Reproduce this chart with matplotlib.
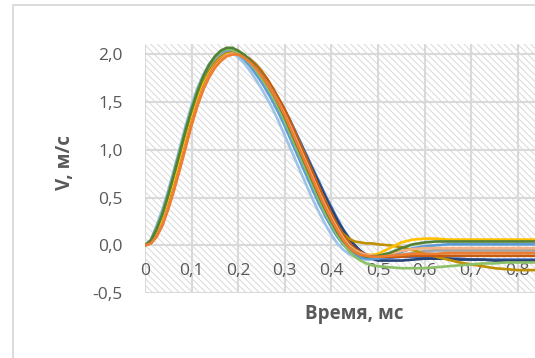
import matplotlib
matplotlib.use("Agg")
import matplotlib.pyplot as plt
from matplotlib.patches import Rectangle

plt.rcParams['font.family'] = ['Open Sans', 'DejaVu Sans']
plt.rcParams['hatch.linewidth'] = 0.7

# time, ms
t = [0.0, 0.0125, 0.025, 0.0375, 0.05, 0.0625, 0.075, 0.0875, 0.1, 0.1125,
     0.125, 0.1375, 0.15, 0.1625, 0.175, 0.1875, 0.2, 0.2125, 0.225, 0.2375,
     0.25, 0.2625, 0.275, 0.2875, 0.3, 0.3125, 0.325, 0.3375, 0.35, 0.3625,
     0.375, 0.3875, 0.4, 0.4125, 0.425, 0.4375, 0.45, 0.4625, 0.475, 0.4875,
     0.5, 0.525, 0.55, 0.575, 0.6, 0.625, 0.65, 0.675, 0.7, 0.725,
     0.75, 0.775, 0.8, 0.825, 0.85]

# velocity, m/s (one list per run)
v_lightblue = [0.00, 0.06, 0.21, 0.38, 0.58, 0.80, 1.03, 1.26, 1.47, 1.65, 1.79, 1.90, 1.97, 2.01, 2.03, 2.02,
               1.97, 1.91, 1.83, 1.74, 1.64, 1.535, 1.42, 1.29, 1.15, 1.01, 0.87, 0.73, 0.59, 0.455,
               0.33, 0.215, 0.11, 0.02, -0.045, -0.09, -0.12, -0.14, -0.15, -0.15, -0.15,
               -0.13, -0.11, -0.09, -0.07, -0.06, -0.06, -0.06, -0.06, -0.06, -0.06, -0.06, -0.06, -0.06, -0.06]
v_blue = [0.00, 0.04, 0.15, 0.30, 0.48, 0.69, 0.92, 1.15, 1.37, 1.56, 1.71, 1.83, 1.92, 1.98, 2.02, 2.03,
          2.02, 1.99, 1.95, 1.89, 1.81, 1.72, 1.63, 1.53, 1.42, 1.30, 1.17, 1.04, 0.91, 0.78,
          0.65, 0.52, 0.40, 0.28, 0.17, 0.08, 0.00, -0.06, -0.10, -0.12, -0.13,
          -0.13, -0.12, -0.12, -0.12, -0.13, -0.14, -0.14, -0.15, -0.15, -0.15, -0.15, -0.15, -0.15, -0.15]
v_gray = [0.00, 0.04, 0.15, 0.30, 0.49, 0.70, 0.93, 1.16, 1.38, 1.57, 1.72, 1.84, 1.93, 1.99, 2.03, 2.04,
          2.02, 1.98, 1.93, 1.86, 1.78, 1.69, 1.58, 1.47, 1.34, 1.20, 1.06, 0.92, 0.78, 0.64,
          0.50, 0.37, 0.25, 0.14, 0.05, -0.03, -0.08, -0.11, -0.12, -0.13, -0.13,
          -0.12, -0.10, -0.08, -0.06, -0.05, -0.05, -0.05, -0.05, -0.05, -0.05, -0.05, -0.05, -0.05, -0.05]
v_darkblue = [0.00, 0.04, 0.15, 0.29, 0.48, 0.69, 0.91, 1.14, 1.36, 1.55, 1.70, 1.82, 1.91, 1.97, 2.01, 2.02,
              2.01, 1.98, 1.94, 1.88, 1.80, 1.71, 1.62, 1.51, 1.40, 1.28, 1.15, 1.02, 0.89, 0.76,
              0.63, 0.50, 0.38, 0.26, 0.16, 0.07, 0.00, -0.06, -0.11, -0.14, -0.16,
              -0.16, -0.16, -0.15, -0.14, -0.14, -0.14, -0.15, -0.15, -0.15, -0.16, -0.16, -0.16, -0.16, -0.16]
v_midblue = [0.00, 0.05, 0.19, 0.35, 0.55, 0.77, 1.00, 1.23, 1.44, 1.62, 1.77, 1.89, 1.97, 2.02, 2.05, 2.04,
             2.00, 1.95, 1.88, 1.80, 1.71, 1.61, 1.50, 1.38, 1.25, 1.11, 0.97, 0.83, 0.69, 0.55,
             0.42, 0.30, 0.19, 0.09, 0.01, -0.05, -0.10, -0.13, -0.14, -0.14, -0.14,
             -0.11, -0.07, -0.03, -0.01, 0.00, 0.01, 0.01, 0.01, 0.01, 0.01, 0.01, 0.01, 0.01, 0.01]
v_olive = [0.00, 0.04, 0.15, 0.29, 0.48, 0.69, 0.91, 1.14, 1.36, 1.55, 1.70, 1.82, 1.91, 1.97, 2.01, 2.02,
           2.01, 1.99, 1.95, 1.90, 1.83, 1.74, 1.64, 1.53, 1.42, 1.29, 1.15, 1.01, 0.87, 0.73,
           0.59, 0.46, 0.33, 0.21, 0.12, 0.07, 0.04, 0.03, 0.02, 0.02, 0.01,
           0.00, -0.02, -0.05, -0.09, -0.12, -0.15, -0.18, -0.20, -0.22, -0.24, -0.25, -0.26, -0.26, -0.26]
v_yellow = [0.00, 0.03, 0.12, 0.26, 0.44, 0.65, 0.87, 1.10, 1.32, 1.52, 1.68, 1.80, 1.89, 1.96, 2.00, 2.01,
            2.00, 1.97, 1.93, 1.87, 1.79, 1.70, 1.60, 1.49, 1.37, 1.24, 1.10, 0.96, 0.82, 0.68,
            0.54, 0.41, 0.29, 0.18, 0.08, 0.00, -0.06, -0.09, -0.10, -0.10, -0.09,
            -0.03, 0.03, 0.06, 0.07, 0.07, 0.06, 0.06, 0.06, 0.06, 0.06, 0.06, 0.06, 0.06, 0.06]
v_darkorange = [0.00, 0.02, 0.10, 0.22, 0.40, 0.60, 0.82, 1.05, 1.28, 1.48, 1.65, 1.78, 1.88, 1.95, 1.99, 2.01,
                2.01, 1.99, 1.95, 1.89, 1.82, 1.74, 1.64, 1.53, 1.42, 1.29, 1.15, 1.01, 0.87, 0.73,
                0.59, 0.45, 0.33, 0.21, 0.11, 0.03, -0.03, -0.07, -0.10, -0.11, -0.12,
                -0.12, -0.12, -0.11, -0.11, -0.11, -0.11, -0.11, -0.11, -0.11, -0.11, -0.11, -0.11, -0.11, -0.11]
v_lightorange = [0.00, 0.02, 0.09, 0.22, 0.39, 0.59, 0.81, 1.04, 1.27, 1.47, 1.64, 1.77, 1.87, 1.94, 1.99, 2.01,
                 2.00, 1.97, 1.93, 1.87, 1.79, 1.70, 1.60, 1.49, 1.37, 1.24, 1.10, 0.96, 0.82, 0.68,
                 0.54, 0.41, 0.29, 0.18, 0.08, 0.00, -0.05, -0.08, -0.10, -0.11, -0.11,
                 -0.09, -0.06, -0.04, -0.03, -0.03, -0.03, -0.03, -0.03, -0.03, -0.03, -0.03, -0.03, -0.03, -0.03]
v_green_low = [0.00, 0.05, 0.18, 0.34, 0.54, 0.76, 0.99, 1.22, 1.43, 1.62, 1.77, 1.89, 1.97, 2.03, 2.06, 2.05,
               2.02, 1.97, 1.91, 1.84, 1.75, 1.66, 1.55, 1.43, 1.30, 1.16, 1.02, 0.88, 0.74, 0.60,
               0.46, 0.33, 0.22, 0.11, 0.02, -0.06, -0.12, -0.16, -0.19, -0.21, -0.22,
               -0.23, -0.24, -0.24, -0.24, -0.23, -0.22, -0.21, -0.20, -0.19, -0.19, -0.18, -0.18, -0.18, -0.18]
v_green_high = [0.00, 0.05, 0.17, 0.33, 0.53, 0.75, 0.98, 1.21, 1.42, 1.61, 1.77, 1.89, 1.98, 2.04, 2.07, 2.07,
                2.04, 2.00, 1.94, 1.87, 1.79, 1.69, 1.59, 1.47, 1.34, 1.20, 1.06, 0.92, 0.78, 0.64,
                0.50, 0.37, 0.25, 0.14, 0.05, -0.02, -0.07, -0.10, -0.12, -0.12, -0.11,
                -0.08, -0.03, 0.01, 0.03, 0.04, 0.04, 0.04, 0.04, 0.04, 0.04, 0.04, 0.04, 0.04, 0.04]
v_orange = [0.00, 0.02, 0.09, 0.21, 0.38, 0.58, 0.80, 1.03, 1.26, 1.46, 1.63, 1.76, 1.86, 1.93, 1.98, 2.00,
            2.00, 1.97, 1.92, 1.86, 1.78, 1.69, 1.59, 1.48, 1.36, 1.22, 1.08, 0.94, 0.80, 0.66,
            0.52, 0.39, 0.27, 0.16, 0.06, -0.02, -0.07, -0.10, -0.11, -0.12, -0.12,
            -0.11, -0.10, -0.09, -0.09, -0.09, -0.08, -0.08, -0.08, -0.08, -0.08, -0.08, -0.08, -0.08, -0.08]

series = [v_lightblue, v_blue, v_gray, v_darkblue, v_midblue, v_olive, v_yellow,
          v_darkorange, v_lightorange, v_green_low, v_green_high, v_orange]
colors = ['#9DC3E6', '#4472C4', '#A5A5A5', '#264478', '#5B9BD5', '#BF9000', '#FFC000',
          '#C55A11', '#F4B183', '#8CC168', '#548235', '#ED7D31']

xticks = [0, 0.1, 0.2, 0.3, 0.4, 0.5, 0.6, 0.7, 0.8]
xlabels = ['0', '0,1', '0,2', '0,3', '0,4', '0,5', '0,6', '0,7', '0,8']
yticks = [-0.5, 0.0, 0.5, 1.0, 1.5, 2.0]
ylabels = ['-0,5', '0,0', '0,5', '1,0', '1,5', '2,0']

grey_txt = '#595959'
grid_c = '#D9D9D9'

fig = plt.figure(figsize=(5.35, 3.58), dpi=100)
fig.patches.append(Rectangle((13 / 535, -0.1), 1.2, 1.1 - 5 / 358, transform=fig.transFigure,
                             facecolor='none', edgecolor=grid_c, lw=1.3))
ax = fig.add_axes([145 / 535, 65 / 358, 1 - 145 / 535, 249 / 358])

ax.patch.set_facecolor('white')
ax.patch.set_edgecolor('#D9D9D9')
ax.patch.set_hatch('\\\\\\\\\\')
ax.patch.set_linewidth(0)

for y, c in zip(series, colors):
    ax.plot(t, y, color=c, lw=1.9, solid_capstyle='round', zorder=3)

ax.set_xlim(0, 0.837)
ax.set_ylim(-0.5, 2.11)
ax.set_xticks(xticks)
ax.set_xticklabels(xlabels)
ax.set_yticks(yticks)
ax.set_yticklabels(ylabels)
ax.set_axisbelow(True)
ax.grid(True, color=grid_c, lw=1.5)

for s in ax.spines.values():
    s.set_color('none')
ax.spines['bottom'].set_position(('data', 0))
ax.tick_params(length=0, labelsize=12.5, labelcolor=grey_txt)
ax.tick_params(axis='x', pad=13)
ax.tick_params(axis='y', pad=16)

fig.text(65 / 535, 1 - 163 / 358, 'V, м/с', rotation=90, ha='center', va='center',
         fontsize=13.5, fontweight='bold', color=grey_txt)
fig.text(354 / 535, 1 - 314 / 358, 'Время, мс', ha='center', va='center',
         fontsize=13.5, fontweight='bold', color=grey_txt)

fig.savefig('out.png', dpi=100)
